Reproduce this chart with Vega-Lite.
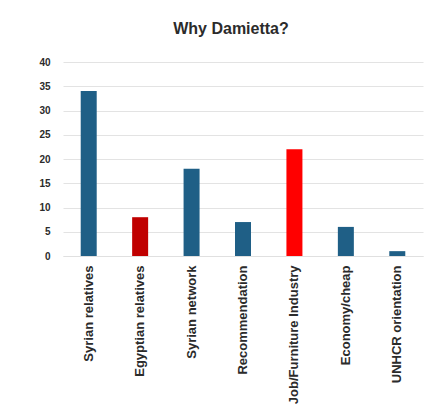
{
  "$schema": "https://vega.github.io/schema/vega-lite/v6.json",
  "autosize": "none",
  "width": 360,
  "height": 194,
  "padding": {"left": 63, "top": 62, "right": 12, "bottom": 156},
  "background": "white",
  "title": {"text": "Why Damietta?", "font": "Liberation Sans", "fontSize": 16, "fontWeight": "bold", "color": "#2b2b2b", "anchor": "middle", "dx": -12, "offset": 20},
  "data": {"values": [
    {"reason": "Syrian relatives", "count": 34, "group": "a"},
    {"reason": "Egyptian relatives", "count": 8, "group": "b"},
    {"reason": "Syrian network", "count": 18, "group": "a"},
    {"reason": "Recommendation", "count": 7, "group": "a"},
    {"reason": "Job/Furniture Industry", "count": 22, "group": "c"},
    {"reason": "Economy/cheap", "count": 6, "group": "a"},
    {"reason": "UNHCR orientation", "count": 1, "group": "a"}
  ]},
  "mark": {"type": "bar", "width": 16},
  "encoding": {
    "x": {"field": "reason", "type": "nominal", "sort": null, "title": null,
      "axis": {"labelAngle": -90, "labelFont": "Liberation Sans", "labelFontWeight": "bold", "labelFontSize": 13, "labelColor": "#2b2b2b", "ticks": false, "domainColor": "#e0e0e0", "labelPadding": 9, "labelBaseline": "middle", "labelAlign": "right", "labelLimit": 200}},
    "y": {"field": "count", "type": "quantitative", "title": null, "scale": {"domain": [0, 40]},
      "axis": {"values": [0, 5, 10, 15, 20, 25, 30, 35, 40], "labelFont": "Liberation Sans", "labelFontWeight": "bold", "labelFontSize": 10, "labelColor": "#2b2b2b", "ticks": false, "domain": false, "gridColor": "#e3e3e3", "labelPadding": 13}},
    "color": {"field": "group", "type": "nominal", "legend": null,
      "scale": {"domain": ["a", "b", "c"], "range": ["#1f5f86", "#c00000", "#ff0000"]}}
  },
  "config": {"view": {"stroke": null}}
}
